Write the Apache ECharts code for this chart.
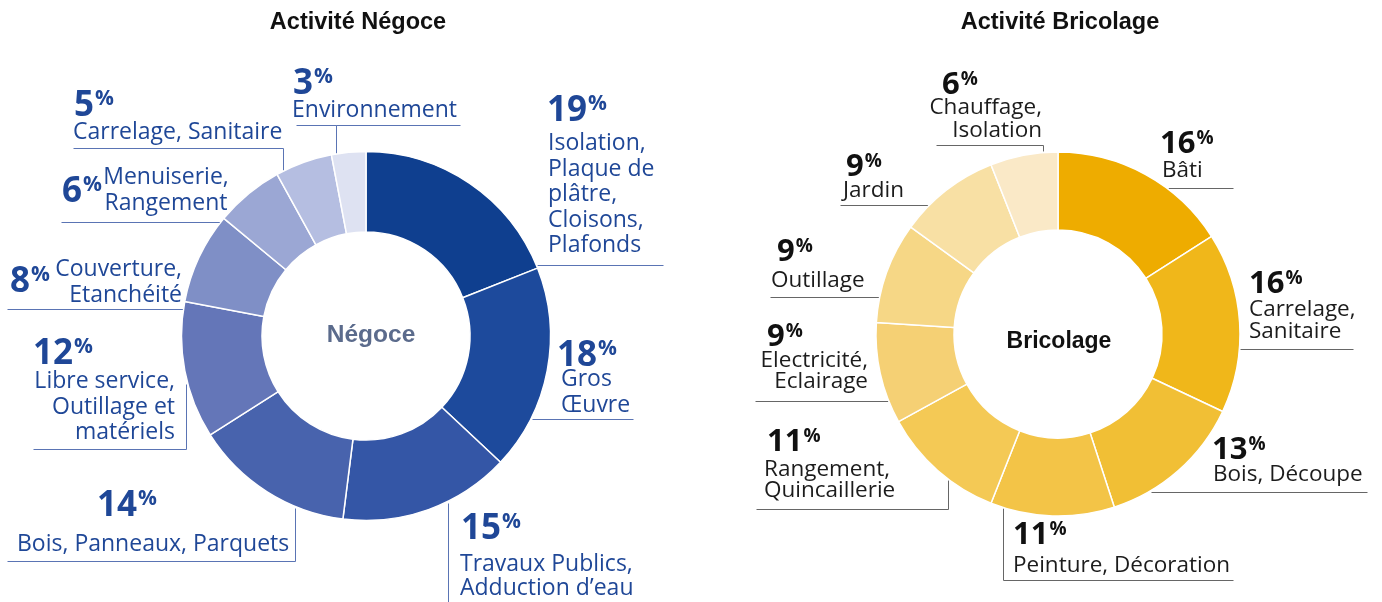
<!DOCTYPE html>
<html>
<head>
<meta charset="utf-8">
<script src="https://cdn.jsdelivr.net/npm/echarts@6/dist/echarts.min.js"></script>
<style>
  html, body { margin: 0; padding: 0; background: #ffffff; }
  #chart { width: 1382px; height: 602px; }
</style>
</head>
<body>
<div id="chart"></div>
<script>
// ---- Activité Négoce ----
const negoceNames = [
  'Isolation,\nPlaque de\nplâtre,\nCloisons,\nPlafonds',
  'Gros\nŒuvre',
  'Travaux Publics,\nAdduction d’eau',
  'Bois, Panneaux, Parquets',
  'Libre service,\nOutillage et\nmatériels',
  'Couverture,\nEtanchéité',
  'Menuiserie,\nRangement',
  'Carrelage, Sanitaire',
  'Environnement'
];
const negoceValues = [19, 18, 15, 14, 12, 8, 6, 5, 3];

// ---- Activité Bricolage ----
const bricoNames = [
  'Bâti',
  'Carrelage,\nSanitaire',
  'Bois, Découpe',
  'Peinture, Décoration',
  'Rangement,\nQuincaillerie',
  'Electricité,\nEclairage',
  'Outillage',
  'Jardin',
  'Chauffage,\nIsolation'
];
const bricoValues = [16, 16, 13, 11, 11, 9, 9, 9, 6];

// ---- palettes ----
const negoceColors = ['#0f3f8f', '#1d4a9c', '#3456a6', '#4863ad', '#6476b8', '#7f8fc6', '#9ba7d4', '#b5bee1', '#dee2f2'];
const bricoColors  = ['#eeac00', '#f0b71a', '#f1bf35', '#f3c447', '#f4c955', '#f5d074', '#f6d786', '#f8e0a4', '#fae9c7'];

// ---- label placement (number top-left, text anchor, leader polyline) ----
const negoceLayout = [
  { num: [547, 97],  text: [548, 151], align: 'left',   gap: 25.5, lead: [[537, 265], [663, 265]] },
  { num: [557, 342], text: [561, 387], align: 'left',   gap: 25.5, lead: [[532, 419], [633, 419]] },
  { num: [461, 515], text: [460, 572], align: 'left',   gap: 24,   lead: [[448, 503], [448, 604]] },
  { num: [97, 492],  text: [17, 552],  align: 'left',   gap: 25.5, lead: [[7, 561], [295, 561], [295, 508]] },
  { num: [33, 340],  text: [175, 389], align: 'right',  gap: 25.5, lead: [[33, 449], [186, 449], [186, 384]] },
  { num: [10, 268],  text: [182, 277], align: 'right',  gap: 25.5, lead: [[7, 309], [183, 309]] },
  { num: [62, 178],  text: [166, 185], align: 'center', gap: 25.5, lead: [[61, 222], [220, 222]] },
  { num: [74, 92],   text: [73, 140],  align: 'left',   gap: 25.5, lead: [[73, 148], [283, 148], [283, 170]] },
  { num: [293, 70],  text: [292, 118], align: 'left',   gap: 25.5, lead: [[296, 125], [336, 125], [336, 153], [336, 125], [460, 125]] }
];
const bricoLayout = [
  { num: [1160, 132], text: [1162, 178], align: 'left',  gap: 22, lead: [[1168, 188], [1233, 188]] },
  { num: [1249, 272], text: [1249, 317], align: 'left',  gap: 22, lead: [[1240, 349], [1353, 349]] },
  { num: [1212, 438], text: [1213, 482], align: 'left',  gap: 22, lead: [[1151, 492], [1367, 492]] },
  { num: [1013, 523], text: [1013, 573], align: 'left',  gap: 22, lead: [[1003, 508], [1003, 580], [1233, 580]] },
  { num: [767, 430],  text: [764, 477],  align: 'left',  gap: 21, lead: [[756, 509], [948, 509], [948, 480]] },
  { num: [767, 325],  text: [868, 368],  align: 'right', gap: 21, lead: [[755, 401], [888, 401]] },
  { num: [777, 240],  text: [771, 288],  align: 'left',  gap: 22, lead: [[770, 297], [879, 297]] },
  { num: [846, 155],  text: [843, 198],  align: 'left',  gap: 22, lead: [[840, 205], [928, 205]] },
  { num: [942, 73],   text: [1042, 115], align: 'right', gap: 23, lead: [[936, 145], [1043, 145], [1043, 151]] }
];

const OPEN = '"Open Sans", sans-serif';
const SANS = '"Liberation Sans", Arial, sans-serif';
const K_OPEN = 0.31;    // offset from the canvas "middle" line down to the baseline, Open Sans
const CAP_OPEN = 0.714; // digit height for Open Sans Bold
const NUM_WEIGHT = 'bold';

const measureCtx = document.createElement('canvas').getContext('2d');
function textWidth(str, font) {
  measureCtx.font = font;
  return measureCtx.measureText(str).width;
}

function openText(x, baseline, str, size, weight, color, align) {
  return {
    type: 'text', x: x, y: baseline - K_OPEN * size, silent: true,
    style: { text: str, font: weight + ' ' + size + 'px ' + OPEN, fill: color, align: align, verticalAlign: 'middle' }
  };
}

function buildLabels(names, values, layout, opt) {
  const els = [];
  names.forEach(function (name, i) {
    const L = layout[i];
    const numStr = String(values[i]);
    const numFont = NUM_WEIGHT + ' ' + opt.numSize + 'px ' + OPEN;
    // big number
    els.push(openText(L.num[0], L.num[1] + CAP_OPEN * opt.numSize, numStr, opt.numSize, NUM_WEIGHT, opt.numColor, 'left'));
    // superscript percent sign, top aligned with the digits
    const px = L.num[0] + textWidth(numStr, numFont) + 1;
    els.push(openText(px, L.num[1] - 1 + CAP_OPEN * opt.pctSize, '%', opt.pctSize, NUM_WEIGHT, opt.numColor, 'left'));
    // category text lines
    name.split('\n').forEach(function (line, j) {
      els.push(openText(L.text[0], L.text[1] + j * L.gap, line, opt.txtSize, 'normal', opt.txtColor, L.align));
    });
    // leader line
    els.push({
      type: 'polyline', silent: true,
      shape: { points: L.lead.map(function (p) { return [p[0] + 0.5, p[1] + 0.5]; }) },
      style: { stroke: opt.lineColor, lineWidth: 1, fill: null }
    });
  });
  return els;
}

function sansText(cx, cy, str, size, color) {
  return {
    type: 'text', x: cx, y: cy, silent: true,
    style: { text: str, font: 'bold ' + size + 'px ' + SANS, fill: color, align: 'center', verticalAlign: 'middle' }
  };
}

const graphics = []
  .concat([
    sansText(358, 23, 'Activité Négoce', 23.5, '#111111'),
    sansText(1060, 23, 'Activité Bricolage', 23.5, '#111111'),
    sansText(371, 335, 'Négoce', 24.5, '#5b6b8c'),
    sansText(1059, 342, 'Bricolage', 23, '#111111')
  ])
  .concat(buildLabels(negoceNames, negoceValues, negoceLayout, {
    numSize: 35, pctSize: 21, txtSize: 23,
    numColor: '#1f4797', txtColor: '#1f4797', lineColor: '#5a74b4'
  }))
  .concat(buildLabels(bricoNames, bricoValues, bricoLayout, {
    numSize: 31, pctSize: 19, txtSize: 22.5,
    numColor: '#111111', txtColor: '#1c1c1c', lineColor: '#666666'
  }));

function pieSeries(names, values, colors, center, radius) {
  return {
    type: 'pie',
    center: center,
    radius: radius,
    startAngle: 90,
    clockwise: true,
    silent: true,
    animation: false,
    label: { show: false },
    labelLine: { show: false },
    itemStyle: { borderColor: '#ffffff', borderWidth: 1.5 },
    data: values.map(function (v, i) {
      return { name: names[i], value: v, itemStyle: { color: colors[i] } };
    })
  };
}

const chart = echarts.init(document.getElementById('chart'), null, { renderer: 'canvas' });
chart.setOption({
  backgroundColor: '#ffffff',
  animation: false,
  series: [
    pieSeries(negoceNames, negoceValues, negoceColors, [366, 336], [104, 184.5]),
    pieSeries(bricoNames, bricoValues, bricoColors, [1058, 334], [104, 182])
  ],
  graphic: graphics
});
</script>
</body>
</html>
